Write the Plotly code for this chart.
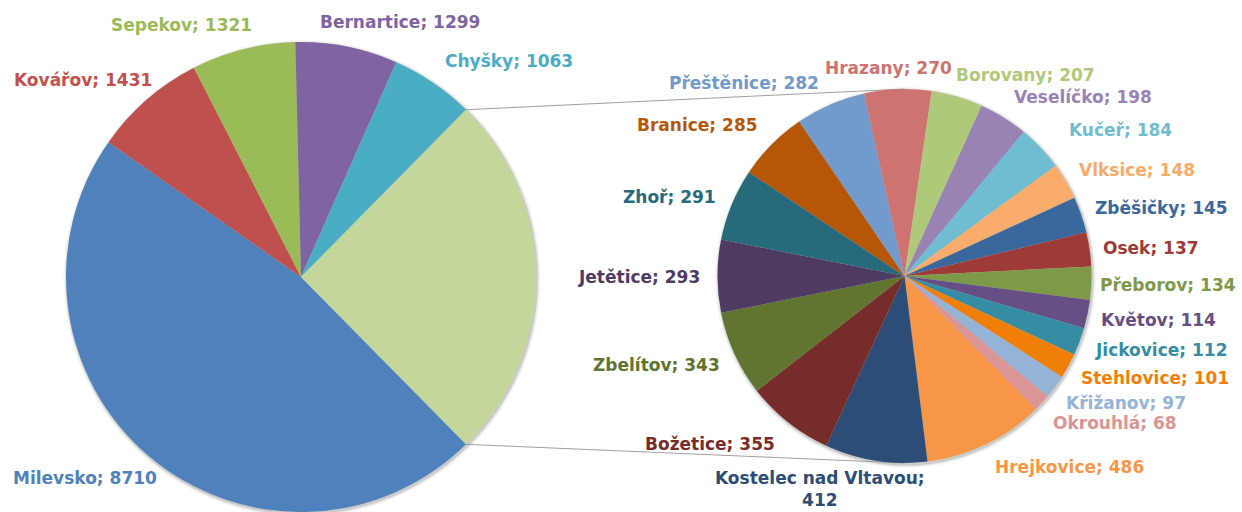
import math
import plotly.graph_objects as go

W, H = 1242, 512

# ---- data ----
main_labels = ["Milevsko", "Kovářov", "Sepekov", "Bernartice", "Chyšky"]
main_values = [8710, 1431, 1321, 1299, 1063]
main_colors = ["#4F81BD", "#C0504D", "#9BBB59", "#8064A2", "#4BACC6"]
other_color = "#C3D69B"

sub_labels = ["Hrejkovice", "Kostelec nad Vltavou", "Božetice", "Zbelítov", "Jetětice",
              "Zhoř", "Branice", "Přeštěnice", "Hrazany", "Borovany", "Veselíčko",
              "Kučeř", "Vlksice", "Zběšičky", "Osek", "Přeborov", "Květov",
              "Jickovice", "Stehlovice", "Křižanov", "Okrouhlá"]
sub_values = [486, 412, 355, 343, 293, 291, 285, 282, 270, 207, 198,
              184, 148, 145, 137, 134, 114, 112, 101, 97, 68]
sub_colors = ["#F79646", "#2C4D75", "#772C2A", "#5F7530", "#4D3B62",
              "#276A7C", "#B65708", "#729ACA", "#CD7371", "#AFC97A", "#9983B5",
              "#6FBDD1", "#F9AB6B", "#3A679C", "#9D3B38", "#7E9A48", "#664F83",
              "#358CA3", "#F07F09", "#95B3D7", "#D99694"]

# label centres (pixels) – layout only
main_label_pos = [(85, 478), (83, 80), (181, 25), (400, 22), (509, 61)]
sub_label_pos = [(1069, 467), (820, 489), (710, 444), (656, 365), (639, 277),
                 (670, 197), (697, 125), (744, 83), (888, 68), (1025, 75), (1083, 97),
                 (1120, 130), (1137, 170), (1161, 208), (1151, 248), (1168, 285), (1158, 320),
                 (1161, 350), (1155, 378), (1126, 403), (1115, 423)]
wrapped = {"Kostelec nad Vltavou"}

# geometry (pixels)
L_CX, L_CY, L_R = 301, 277, 235
R_CX, R_CY, R_R = 904.5, 276, 187
ROT = 135.4


def dom(cx, cy, r):
    return dict(x=[(cx - r) / W, (cx + r) / W], y=[1 - (cy + r) / H, 1 - (cy - r) / H])


other_value = sum(sub_values)
fig = go.Figure()
fig.add_trace(go.Pie(
    labels=main_labels + ["Ostatní"], values=main_values + [other_value],
    marker=dict(colors=main_colors + [other_color], line=dict(width=0)),
    sort=False, direction="clockwise", rotation=ROT, textinfo="none",
    domain=dom(L_CX, L_CY, L_R), showlegend=False, hoverinfo="label+value"))
fig.add_trace(go.Pie(
    labels=sub_labels, values=sub_values,
    marker=dict(colors=sub_colors, line=dict(width=0)),
    sort=False, direction="clockwise", rotation=ROT, textinfo="none",
    domain=dom(R_CX, R_CY, R_R), showlegend=False, hoverinfo="label+value"))

# soft shadow halo behind the pies
for cx, cy, r in ((L_CX, L_CY, L_R), (R_CX, R_CY, R_R)):
    for d, op in ((1, 0.10), (2, 0.07), (3.5, 0.04)):
        fig.add_shape(type="circle", xref="paper", yref="paper", layer="below",
                      x0=(cx - r - d + 1) / W, x1=(cx + r + d + 1) / W,
                      y0=1 - (cy + r + d + 1.5) / H, y1=1 - (cy - r - d + 1.5) / H,
                      fillcolor=f"rgba(0,0,0,{op})", line=dict(width=0))

# connector lines from the split slice edges to top/bottom of the second pie
total = sum(main_values) + other_value
a_end = ROT + 360 * sum(main_values) / total  # start of "other" slice (cw from north)
pts = []
for ang in (a_end, ROT + 360):
    t = math.radians(ang)
    pts.append((L_CX + L_R * math.sin(t), L_CY - L_R * math.cos(t)))
targets = [(R_CX, R_CY - R_R), (R_CX, R_CY + R_R)]
for (x0, y0), (x1, y1) in zip(pts, targets):
    fig.add_shape(type="line", xref="paper", yref="paper", layer="below",
                  x0=x0 / W, y0=1 - y0 / H, x1=x1 / W, y1=1 - y1 / H,
                  line=dict(color="#A0A0A0", width=1))


def add_label(name, val, col, pos):
    sep = ";<br>" if name in wrapped else "; "
    fig.add_annotation(x=pos[0] / W, y=1 - pos[1] / H, xref="paper", yref="paper",
                       text=f"<b>{name}{sep}{val}</b>", showarrow=False,
                       xanchor="center", yanchor="middle",
                       font=dict(family="DejaVu Sans", size=17, color=col))


for n, v, c, p in zip(main_labels, main_values, main_colors, main_label_pos):
    add_label(n, v, c, p)
for n, v, c, p in zip(sub_labels, sub_values, sub_colors, sub_label_pos):
    add_label(n, v, c, p)

fig.update_layout(width=W, height=H, margin=dict(l=0, r=0, t=0, b=0),
                  paper_bgcolor="white", plot_bgcolor="white")
fig.write_html("out.html", config={"displayModeBar": False},
               post_script="document.body.style.margin='0';")
